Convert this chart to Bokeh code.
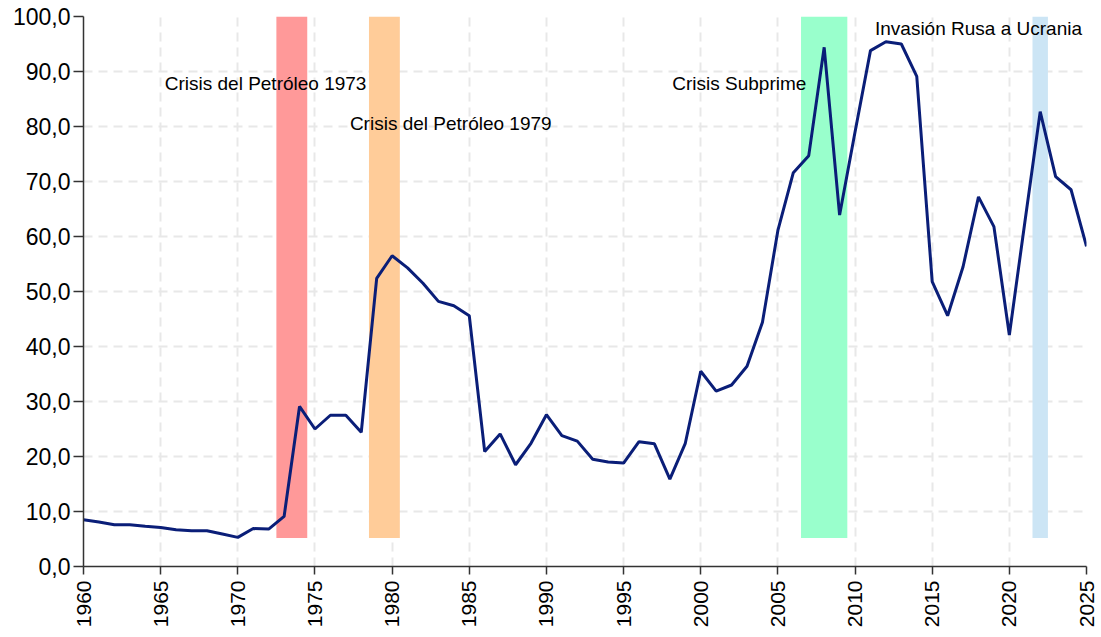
import math
from bokeh.plotting import figure
from bokeh.models import FixedTicker, CustomJSTickFormatter, Range1d, ColumnDataSource
from bokeh.core.properties import value
from bokeh.embed import file_html
from bokeh.resources import INLINE

years = list(range(1960, 2026))
values = [8.5, 8.1, 7.6, 7.6, 7.3, 7.1, 6.7, 6.5, 6.5, 5.9,
          5.3, 6.9, 6.8, 9.1, 29.1, 25.0, 27.5, 27.5, 24.4, 52.4,
          56.5, 54.3, 51.5, 48.2, 47.4, 45.6, 20.9, 24.1, 18.5, 22.4,
          27.6, 23.8, 22.8, 19.5, 19.0, 18.8, 22.7, 22.3, 15.9, 22.4,
          35.5, 31.9, 33.0, 36.4, 44.4, 61.1, 71.6, 74.7, 94.4, 63.9,
          79.0, 93.8, 95.4, 95.0, 89.1, 51.8, 45.6, 54.5, 67.2, 61.8,
          42.1, 62.5, 82.7, 70.9, 68.5, 58.2]

band_start = [1972.5, 1978.5, 2006.5, 2021.5]
band_end = [1974.5, 1980.5, 2009.5, 2022.5]
band_bottom = [5.2, 5.2, 5.2, 5.2]
band_top = [100, 100, 100, 100]
band_colors = ["#FF9999", "#FFCC99", "#99FFCC", "#CCE5F5"]

label_text = ["Crisis del Petróleo 1973", "Crisis del Petróleo 1979",
              "Crisis Subprime", "Invasión Rusa a Ucrania"]
label_x = [1971.8, 1983.8, 2002.5, 2018.0]
label_y = [87.8, 80.5, 87.8, 97.8]

x_ticks = list(range(1960, 2026, 5))
y_ticks = list(range(0, 101, 10))

p = figure(width=1098, height=630, output_backend="svg", toolbar_location=None,
           x_range=Range1d(1960, 2025), y_range=Range1d(0, 100),
           min_border_left=83, min_border_right=12, min_border_top=16, min_border_bottom=63)
p.outline_line_color = None
p.background_fill_color = "white"

p.quad(left=band_start, right=band_end, bottom=band_bottom, top=band_top,
       fill_color=band_colors, line_color=None)

p.line(years, values, line_color="#0A1E78", line_width=3)

src = ColumnDataSource(dict(x=label_x, y=label_y, t=label_text))
p.text(x="x", y="y", text="t", source=src, text_align="center", text_baseline="middle",
       text_font=value("Liberation Sans"), text_font_size="19px", text_color="black")

p.xaxis.ticker = FixedTicker(ticks=x_ticks)
p.yaxis.ticker = FixedTicker(ticks=y_ticks)
p.yaxis.formatter = CustomJSTickFormatter(code="return tick.toFixed(1).replace('.', ',');")
p.xaxis.major_label_orientation = math.pi / 2

for ax in (p.xaxis, p.yaxis):
    ax.axis_line_color = "#333333"
    ax.axis_line_width = 1.5
    ax.major_tick_line_color = "#333333"
    ax.major_tick_line_width = 1.5
    ax.major_tick_in = 0
    ax.minor_tick_line_color = None
    ax.major_label_text_font = "Liberation Sans"
    ax.major_label_text_color = "black"
p.xaxis.major_label_text_font_size = "21px"
p.yaxis.major_label_text_font_size = "23px"
p.xaxis.major_tick_out = 8
p.yaxis.major_tick_out = 10
p.xaxis.major_label_standoff = 6
p.yaxis.major_label_standoff = 3

for g in (p.xgrid, p.ygrid):
    g.grid_line_color = "#E8E8E8"
    g.grid_line_width = 2
    g.grid_line_dash = "9 6"

open("out.html", "w").write(file_html(p, INLINE))
